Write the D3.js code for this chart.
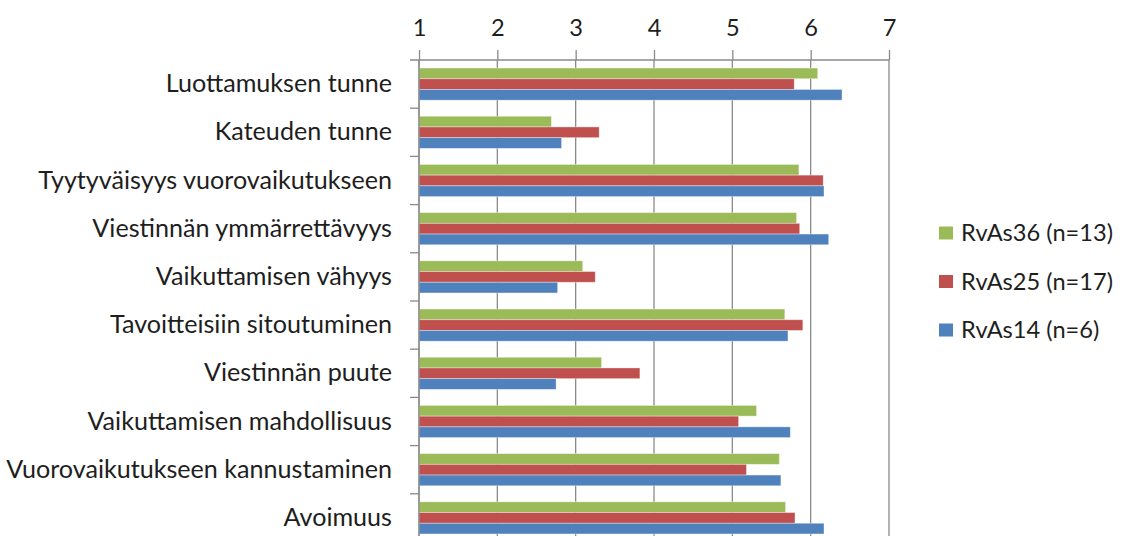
<!DOCTYPE html>
<html>
<head>
<meta charset="utf-8">
<script src="https://cdn.jsdelivr.net/npm/d3@7"></script>
<style>
  html, body { margin: 0; padding: 0; background: #fff; }
  svg { display: block; }
  text { font-family: "Lato", "Open Sans", sans-serif; fill: #1e1e1e; }
</style>
</head>
<body>
<svg id="chart" width="1129" height="536"></svg>
<script>
// Categories, top to bottom
const categories = [
  "Luottamuksen tunne",
  "Kateuden tunne",
  "Tyytyväisyys vuorovaikutukseen",
  "Viestinnän ymmärrettävyys",
  "Vaikuttamisen vähyys",
  "Tavoitteisiin sitoutuminen",
  "Viestinnän puute",
  "Vaikuttamisen mahdollisuus",
  "Vuorovaikutukseen kannustaminen",
  "Avoimuus"
];

// Series names (legend order, and top-to-bottom order inside each group)
const seriesNames = ["RvAs36 (n=13)", "RvAs25 (n=17)", "RvAs14 (n=6)"];

// Mean scores per series, in category order
const rvas36 = [6.09, 2.69, 5.85, 5.82, 3.09, 5.67, 3.33, 5.31, 5.60, 5.68];
const rvas25 = [5.79, 3.30, 6.16, 5.86, 3.25, 5.90, 3.82, 5.08, 5.18, 5.80];
const rvas14 = [6.40, 2.82, 6.17, 6.23, 2.77, 5.71, 2.75, 5.74, 5.62, 6.17];

const tickValues = [1, 2, 3, 4, 5, 6, 7];
const seriesColors = ["#9BBB59", "#C0504D", "#4F81BD"];

const seriesValues = [rvas36, rvas25, rvas14];

const svg = d3.select("#chart");

const plot = { left: 419, right: 889, top: 60, bottom: 542 };

const x = d3.scaleLinear().domain([1, 7]).range([plot.left, plot.right]);
const y = d3.scaleBand().domain(categories).range([plot.top, plot.bottom]).padding(0);
const yInner = d3.scaleBand().domain(seriesNames)
  .range([0, y.bandwidth()]).paddingInner(0).paddingOuter(0.75);
const color = d3.scaleOrdinal().domain(seriesNames).range(seriesColors);

// Fit the category label font to the left margin
const probe = svg.append("text").attr("font-size", 100).text(categories[2]);
const probeW = probe.node().getComputedTextLength();
probe.remove();
const fontSize = 100 * 354 / probeW;
// Legend and tick labels use the size that fits the legend entries
const legendProbe = svg.append("text").attr("font-size", 100).text(seriesNames[0]);
const legendW = legendProbe.node().getComputedTextLength();
legendProbe.remove();
const legendFont = 100 * 152 / legendW;

const gridColor = "#8a8a8a";

// Vertical gridlines
svg.append("g")
  .selectAll("line")
  .data(tickValues)
  .join("line")
  .attr("x1", d => x(d)).attr("x2", d => x(d))
  .attr("y1", plot.top).attr("y2", plot.bottom)
  .attr("stroke", gridColor).attr("stroke-width", 1.3);

// Bars
const rows = categories.map((c, i) => ({
  category: c,
  values: seriesNames.map((s, k) => ({ series: s, value: seriesValues[k][i] }))
}));

const groups = svg.append("g")
  .selectAll("g")
  .data(rows)
  .join("g")
  .attr("transform", d => `translate(0,${y(d.category)})`);

groups.selectAll("rect")
  .data(d => d.values)
  .join("rect")
  .attr("x", x(1))
  .attr("y", d => yInner(d.series))
  .attr("width", d => x(d.value) - x(1))
  .attr("height", yInner.bandwidth())
  .attr("fill", d => color(d.series))
  .attr("stroke", "rgba(255,255,255,0.45)")
  .attr("stroke-width", 0.8);

// Top value axis
const xAxis = d3.axisTop(x).tickValues(tickValues).tickSize(10).tickPadding(14)
  .tickFormat(d3.format("d"));
const gx = svg.append("g")
  .attr("transform", `translate(0,${plot.top})`)
  .call(xAxis);
gx.select(".domain").remove();
gx.selectAll(".tick line").attr("stroke", gridColor).attr("stroke-width", 1.3);
gx.selectAll(".tick text")
  .attr("font-size", legendFont)
  .attr("font-family", "Lato, 'Open Sans', sans-serif")
  .attr("fill", "#1e1e1e");
gx.append("line")
  .attr("x1", plot.left - 9).attr("x2", plot.right)
  .attr("y1", 0).attr("y2", 0)
  .attr("stroke", gridColor).attr("stroke-width", 1.3);

// Left category axis
const yAxis = d3.axisLeft(y).tickSize(0).tickPadding(27);
const gy = svg.append("g")
  .attr("transform", `translate(${plot.left},0)`)
  .call(yAxis);
gy.select(".domain").remove();
gy.selectAll(".tick text")
  .attr("font-size", fontSize)
  .attr("font-family", "Lato, 'Open Sans', sans-serif")
  .attr("fill", "#1e1e1e");
gy.append("line")
  .attr("x1", 0).attr("x2", 0)
  .attr("y1", plot.top).attr("y2", plot.bottom)
  .attr("stroke", gridColor).attr("stroke-width", 1.3);
// Tick marks between categories
gy.append("g")
  .selectAll("line")
  .data(categories.slice(1))
  .join("line")
  .attr("x1", -9).attr("x2", 0)
  .attr("y1", d => y(d)).attr("y2", d => y(d))
  .attr("stroke", gridColor).attr("stroke-width", 1.3);

// Legend
const legend = svg.append("g").attr("transform", "translate(939,233)");
const items = legend.selectAll("g")
  .data(seriesNames)
  .join("g")
  .attr("transform", (d, i) => `translate(0,${i * 48.5})`);
items.append("rect")
  .attr("x", 0).attr("y", -6.5)
  .attr("width", 14).attr("height", 13)
  .attr("fill", d => color(d));
items.append("text")
  .attr("x", 22).attr("y", 0)
  .attr("dy", "0.35em")
  .attr("font-size", legendFont)
  .text(d => d);
</script>
</body>
</html>
